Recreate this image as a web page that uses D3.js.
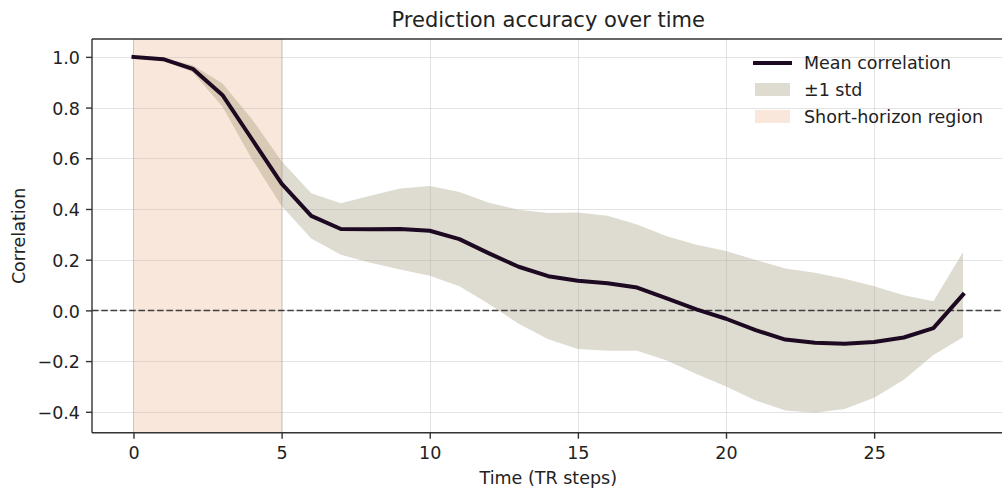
<!DOCTYPE html>
<html>
<head>
<meta charset="utf-8">
<script src="https://cdn.jsdelivr.net/npm/d3@7"></script>
<style>
  html, body { margin: 0; padding: 0; background: #ffffff; }
  svg { display: block; font-family: "DejaVu Sans", sans-serif; }
</style>
</head>
<body>
<svg id="chart" width="1002" height="491"></svg>
<script>
// Time steps (TR) and the correlation summary at each step
const timeSteps = d3.range(0, 29);
const meanCorr = [
  1.000, 0.991, 0.953, 0.850, 0.675, 0.500, 0.373, 0.321, 0.320, 0.321,
  0.314, 0.281, 0.225, 0.172, 0.135, 0.117, 0.107, 0.090, 0.047, 0.004,
  -0.033, -0.078, -0.115, -0.128, -0.132, -0.125, -0.107, -0.070, 0.062
];
const stdCorr = [
  0.001, 0.005, 0.014, 0.046, 0.079, 0.088, 0.089, 0.102, 0.132, 0.160,
  0.177, 0.186, 0.200, 0.225, 0.249, 0.269, 0.266, 0.249, 0.245, 0.255,
  0.267, 0.277, 0.280, 0.276, 0.257, 0.220, 0.167, 0.106, 0.168
];
const xTicks = [0, 5, 10, 15, 20, 25];
const yTicks = [-0.4, -0.2, 0.0, 0.2, 0.4, 0.6, 0.8, 1.0];
const shortHorizon = [0, 5];
const legendLabels = ["Mean correlation", "\u00b11 std", "Short-horizon region"];

const lineColor = "#1d0a22";
const bandColor = "#7d7545";
const bandAlpha = 0.25;
const regionColor = "#e8a070";
const regionAlpha = 0.25;

const svg = d3.select("#chart");
const plot = { left: 92, top: 39, right: 1004.5, bottom: 432.7 };

const x = d3.scaleLinear().domain([-1.4, 29.4]).range([plot.left, plot.right]);
const y = d3.scaleLinear().domain([-0.4825, 1.0705]).range([plot.bottom, plot.top]);

svg.append("defs").append("clipPath").attr("id", "plotClip")
  .append("rect")
  .attr("x", plot.left).attr("y", plot.top)
  .attr("width", plot.right - plot.left).attr("height", plot.bottom - plot.top);

const body = svg.append("g").attr("clip-path", "url(#plotClip)");

// Shaded short-horizon span
body.append("rect")
  .attr("x", x(shortHorizon[0]))
  .attr("y", plot.top)
  .attr("width", x(shortHorizon[1]) - x(shortHorizon[0]))
  .attr("height", plot.bottom - plot.top)
  .attr("fill", regionColor).attr("fill-opacity", regionAlpha)
  .attr("stroke", "#b08a74").attr("stroke-opacity", 0.35).attr("stroke-width", 1);

// ±1 std band
const rows = timeSteps.map((t, i) => ({ t, m: meanCorr[i], s: stdCorr[i] }));
body.append("path")
  .datum(rows)
  .attr("d", d3.area()
    .x(d => x(d.t))
    .y0(d => y(d.m - d.s))
    .y1(d => y(d.m + d.s)))
  .attr("fill", bandColor).attr("fill-opacity", bandAlpha);

// Grid
const grid = body.append("g").attr("stroke", "#b0b0b0").attr("stroke-opacity", 0.35).attr("stroke-width", 1);
grid.selectAll(".gx").data(xTicks).join("line")
  .attr("x1", d => Math.round(x(d)) + 0.5).attr("x2", d => Math.round(x(d)) + 0.5)
  .attr("y1", plot.top).attr("y2", plot.bottom);
grid.selectAll(".gy").data(yTicks).join("line")
  .attr("x1", plot.left).attr("x2", plot.right)
  .attr("y1", d => Math.round(y(d)) + 0.5).attr("y2", d => Math.round(y(d)) + 0.5);

// Zero reference
body.append("line")
  .attr("x1", plot.left).attr("x2", plot.right)
  .attr("y1", y(0)).attr("y2", y(0))
  .attr("stroke", "#222").attr("stroke-opacity", 0.85)
  .attr("stroke-width", 1.5).attr("stroke-dasharray", "6.5,2.8");

// Mean correlation line
body.append("path")
  .datum(rows)
  .attr("d", d3.line().x(d => x(d.t)).y(d => y(d.m)))
  .attr("fill", "none").attr("stroke", lineColor)
  .attr("stroke-width", 4).attr("stroke-linejoin", "round").attr("stroke-linecap", "square");

// Axes
const fmt = d => d3.format(".1f")(d).replace("-", "\u2212");
const xAxis = svg.append("g").attr("transform", `translate(0,${plot.bottom})`)
  .call(d3.axisBottom(x).tickValues(xTicks).tickSize(6).tickPadding(5).tickFormat(d3.format("d")));
const yAxis = svg.append("g").attr("transform", `translate(${plot.left},0)`)
  .call(d3.axisLeft(y).tickValues(yTicks).tickSize(6).tickPadding(6).tickFormat(fmt));

[xAxis, yAxis].forEach(a => {
  a.select(".domain").remove();
  a.selectAll(".tick line").attr("stroke", "#333").attr("stroke-width", 1.4);
  a.selectAll(".tick text").attr("fill", "#222").style("font-size", "17.5px")
    .style("font-family", "'DejaVu Sans', sans-serif");
});
xAxis.selectAll(".tick text").attr("dy", null).attr("y", 26);
yAxis.selectAll(".tick text").attr("dy", "0.38em");

// Spines
const spines = svg.append("g").attr("stroke", "#333").attr("stroke-width", 1.4).attr("fill", "none");
spines.append("line").attr("x1", plot.left).attr("x2", plot.left).attr("y1", plot.top).attr("y2", plot.bottom);
spines.append("line").attr("x1", plot.left).attr("x2", plot.right).attr("y1", plot.bottom).attr("y2", plot.bottom);
spines.append("line").attr("x1", plot.left).attr("x2", plot.right).attr("y1", plot.top).attr("y2", plot.top);
spines.append("line").attr("x1", plot.right).attr("x2", plot.right).attr("y1", plot.top).attr("y2", plot.bottom);

// Titles
const cx = (plot.left + plot.right) / 2;
svg.append("text").attr("x", cx).attr("y", 27).attr("text-anchor", "middle")
  .attr("fill", "#222").style("font-size", "21px").text("Prediction accuracy over time");
svg.append("text").attr("x", cx).attr("y", 483.5).attr("text-anchor", "middle")
  .attr("fill", "#222").style("font-size", "17.5px").text("Time (TR steps)");
svg.append("text")
  .attr("transform", `translate(25,${(plot.top + plot.bottom) / 2}) rotate(-90)`)
  .attr("text-anchor", "middle").attr("fill", "#222").style("font-size", "17.5px")
  .text("Correlation");

// Legend
const legend = svg.append("g").attr("transform", "translate(753,63)");
const rowGap = 27;
legend.append("line").attr("x1", 0).attr("x2", 39).attr("y1", 0).attr("y2", 0)
  .attr("stroke", lineColor).attr("stroke-width", 4);
legend.append("rect").attr("x", 2).attr("y", rowGap - 7).attr("width", 35).attr("height", 13)
  .attr("fill", bandColor).attr("fill-opacity", bandAlpha);
legend.append("rect").attr("x", 2).attr("y", 2 * rowGap - 7).attr("width", 35).attr("height", 13)
  .attr("fill", regionColor).attr("fill-opacity", regionAlpha);
legend.selectAll(".lbl").data(legendLabels).join("text")
  .attr("x", 51).attr("y", (d, i) => i * rowGap).attr("dy", "0.36em")
  .attr("fill", "#222").style("font-size", "17.5px").text(d => d);
</script>
</body>
</html>
